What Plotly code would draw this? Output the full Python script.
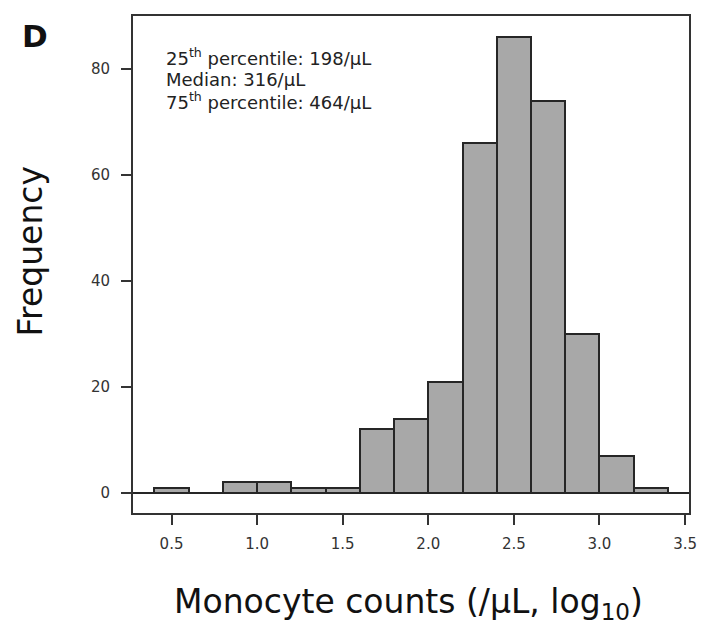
import plotly.graph_objects as go

# Histogram bins (log10 monocyte counts) and frequencies
bin_left = [0.4, 0.6, 0.8, 1.0, 1.2, 1.4, 1.6, 1.8, 2.0, 2.2, 2.4, 2.6, 2.8, 3.0, 3.2]
bin_width = 0.2
counts = [1, 0, 2, 2, 1, 1, 12, 14, 21, 66, 86, 74, 30, 7, 1]

x_ticks = [0.5, 1.0, 1.5, 2.0, 2.5, 3.0, 3.5]
y_ticks = [0, 20, 40, 60, 80]

stats_lines = [
    "25<sup>th</sup> percentile: 198/μL",
    "Median: 316/μL",
    "75<sup>th</sup> percentile: 464/μL",
]

centers = [b + bin_width / 2 for b in bin_left]

W, H = 708, 625
L, R, T, B = 133, 11, 16, 112
pw, ph = W - L - R, H - T - B

def px_x(x):
    return (x - L) / pw

def px_y(y):
    return (H - B - y) / ph

FONT = "DejaVu Sans"
DARK = "#262626"

fig = go.Figure()
fig.add_trace(go.Bar(
    x=centers, y=counts, width=bin_width,
    marker=dict(color="#A8A8A8", line=dict(color=DARK, width=2)),
    showlegend=False,
))

fig.update_layout(
    width=W, height=H,
    margin=dict(l=L, r=R, t=T, b=B),
    paper_bgcolor="white", plot_bgcolor="white",
    bargap=0,
    font=dict(family=FONT, color=DARK, size=15),
    xaxis=dict(
        range=[0.275, 3.523], tickvals=x_ticks,
        ticktext=[f"{v:.1f}" for v in x_ticks],
        showgrid=False, zeroline=False,
        showline=True, mirror=True, linecolor="#333333", linewidth=2,
        ticks="outside", ticklen=10, tickwidth=2, tickcolor="#333333",
        tickfont=dict(size=15, color="#333333", family=FONT),
        ticklabelstandoff=6,
    ),
    yaxis=dict(
        range=[-3.77, 90.0], tickvals=y_ticks,
        showgrid=False, zeroline=True, zerolinecolor=DARK, zerolinewidth=2,
        showline=True, mirror=True, linecolor="#333333", linewidth=2,
        ticks="outside", ticklen=10, tickwidth=2, tickcolor="#333333",
        tickfont=dict(size=15, color="#333333", family=FONT),
        ticklabelstandoff=8,
    ),
)

annotations = [
    dict(text="<b>D</b>", x=px_x(34), y=px_y(36), font=dict(size=31, family=FONT, color="#111111")),
    dict(text="Monocyte counts (/μL, log<sub>10</sub>)", x=px_x(412), y=px_y(603),
         font=dict(size=33, family=FONT, color="#111111")),
    dict(text="Frequency", x=px_x(29), y=px_y(251), textangle=-90,
         font=dict(size=33, family=FONT, color="#111111")),
]
for i, line in enumerate(stats_lines):
    annotations.append(dict(text=line, x=px_x(164), y=px_y(57 + 22 * i), xanchor="left",
                            font=dict(size=18, family=FONT, color="#222222")))

for a in annotations:
    a.setdefault("xanchor", "center")
    a.update(xref="paper", yref="paper", yanchor="middle", showarrow=False)
fig.update_layout(annotations=annotations)

fig.write_html("out.html")
